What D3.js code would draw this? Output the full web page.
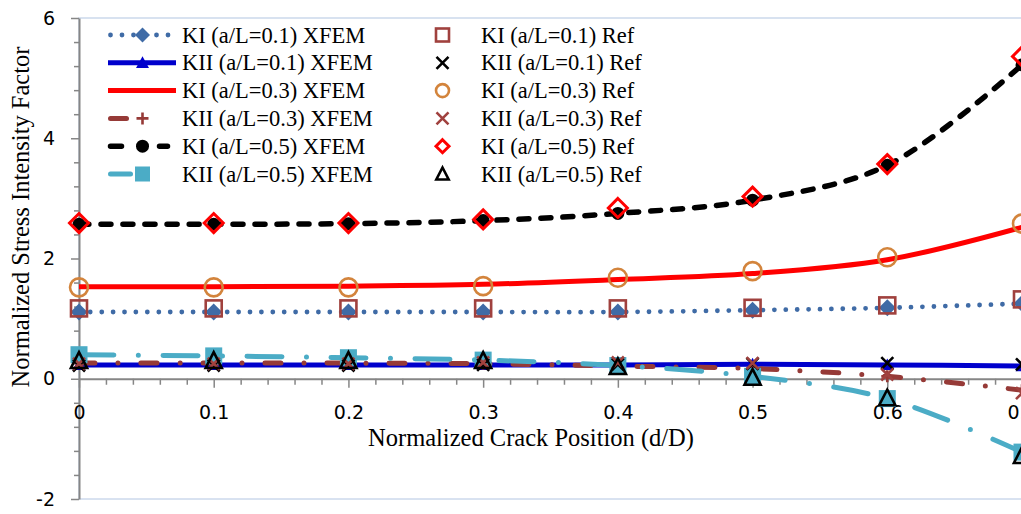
<!DOCTYPE html>
<html>
<head>
<meta charset="utf-8">
<script src="https://cdn.jsdelivr.net/npm/d3@7"></script>
<style>
html,body{margin:0;padding:0;background:#fff;}
svg{display:block;}
</style>
</head>
<body>
<svg id="chart" width="1021" height="514"></svg>
<script>
// ---------- data ----------
const positions = [0, 0.1, 0.2, 0.3, 0.4, 0.5, 0.6, 0.7];
const xTickLabels = ["0", "0.1", "0.2", "0.3", "0.4", "0.5", "0.6", "0.7"];
const yTickValues = [-2, 0, 2, 4, 6];
const yTickLabels = ["-2", "0", "2", "4", "6"];

const kiXfem01  = [1.11, 1.11, 1.11, 1.11, 1.11, 1.14, 1.18, 1.25];
const kiiXfem01 = [0.23, 0.23, 0.23, 0.23, 0.23, 0.24, 0.23, 0.21];
const kiXfem03  = [1.53, 1.53, 1.54, 1.57, 1.65, 1.75, 1.98, 2.52];
const kiiXfem03 = [0.26, 0.26, 0.26, 0.25, 0.21, 0.17, 0.04, -0.19];
const kiXfem05  = [2.57, 2.57, 2.58, 2.63, 2.75, 2.97, 3.55, 5.22];
const kiiXfem05 = [0.40, 0.38, 0.35, 0.31, 0.22, 0.04, -0.33, -1.22];

const kiRef01  = [1.17, 1.17, 1.17, 1.17, 1.17, 1.18, 1.22, 1.32];
const kiiRef01 = [0.22, 0.22, 0.22, 0.23, 0.24, 0.25, 0.26, 0.24];
const kiRef03  = [1.52, 1.52, 1.52, 1.54, 1.68, 1.79, 2.02, 2.58];
const kiiRef03 = [0.25, 0.25, 0.25, 0.27, 0.27, 0.26, 0.07, -0.24];
const kiRef05  = [2.59, 2.59, 2.59, 2.65, 2.84, 3.03, 3.57, 5.36];
const kiiRef05 = [0.30, 0.30, 0.30, 0.30, 0.20, 0.02, -0.32, -1.28];

const xfemNames = ["KI (a/L=0.1) XFEM", "KII (a/L=0.1) XFEM", "KI (a/L=0.3) XFEM",
                   "KII (a/L=0.3) XFEM", "KI (a/L=0.5) XFEM", "KII (a/L=0.5) XFEM"];
const refNames = ["KI (a/L=0.1) Ref", "KII (a/L=0.1) Ref", "KI (a/L=0.3) Ref",
                  "KII (a/L=0.3) Ref", "KI (a/L=0.5) Ref", "KII (a/L=0.5) Ref"];

// ---------- styles ----------
const xfemSeries = [
  {name: xfemNames[0], values: kiXfem01,  color: "#3F6BA6", width: 4.8, dash: "0 11.4", legendDash: "0 11.5", marker: "diamondFill", msize: 17},
  {name: xfemNames[1], values: kiiXfem01, color: "#0000CC", width: 5,   dash: null,  legendDash: null, marker: "triangleFill", msize: 13},
  {name: xfemNames[2], values: kiXfem03,  color: "#FF0000", width: 5,   dash: null,  legendDash: null, marker: null},
  {name: xfemNames[3], values: kiiXfem03, color: "#963A37", width: 5,   dash: "16 23 0 23", legendDash: "16 45.5 0 100", marker: "plus", msize: 12},
  {name: xfemNames[4], values: kiXfem05,  color: "#000000", width: 5.5, dash: "10 12", legendDash: "11 38 8 100", marker: "circleFill", msize: 13},
  {name: xfemNames[5], values: kiiXfem05, color: "#4BACC6", width: 5,   dash: "35 24.5 0 24.5", legendDash: "20 41.5 0 100", marker: "squareFill", msize: 17}
];
const refSeries = [
  {name: refNames[0], values: kiRef01,  color: "#A0413E", marker: "square",   msize: 16},
  {name: refNames[1], values: kiiRef01, color: "#000000", marker: "cross",    msize: 12},
  {name: refNames[2], values: kiRef03,  color: "#D3843C", marker: "circle",   msize: 18},
  {name: refNames[3], values: kiiRef03, color: "#A0413E", marker: "cross",    msize: 12},
  {name: refNames[4], values: kiRef05,  color: "#FF0000", marker: "diamond",  msize: 19},
  {name: refNames[5], values: kiiRef05, color: "#000000", marker: "triangle", msize: 17}
];

const svg = d3.select("#chart");
svg.append("rect").attr("width", 1021).attr("height", 514).attr("fill", "#fff");

const x = d3.scaleLinear().domain([0, 0.7]).range([79, 1022]);
const y = d3.scaleLinear().domain([-2, 6]).range([499, 18]);

// plot area border
svg.append("rect")
  .attr("x", x(0)).attr("y", y(6))
  .attr("width", x(0.7) - x(0) + 20).attr("height", y(-2) - y(6))
  .attr("fill", "none").attr("stroke", "#CCD9EC").attr("stroke-width", 1.5);

const axisColor = "#868686";
const tickFont = "'DejaVu Sans', sans-serif";

// Y axis minor ticks
const yMinor = d3.range(-2, 6.001, 0.4).filter(v => Math.abs(v / 2 - Math.round(v / 2)) > 1e-6);
svg.append("g").attr("transform", `translate(${x(0)},0)`)
  .call(d3.axisLeft(y).tickValues(yMinor).tickSize(5).tickSizeOuter(0).tickFormat(""))
  .call(g => g.select(".domain").remove())
  .call(g => g.selectAll("line").attr("stroke", axisColor).attr("stroke-width", 1.5));

// Y axis major
const yAxisG = svg.append("g").attr("transform", `translate(${x(0)},0)`)
  .call(d3.axisLeft(y).tickValues(yTickValues).tickSize(8).tickSizeOuter(0).tickPadding(16)
        .tickFormat((d, i) => yTickLabels[i]));
yAxisG.select(".domain").attr("stroke", axisColor).attr("stroke-width", 2);
yAxisG.selectAll("line").attr("stroke", axisColor).attr("stroke-width", 1.5);
yAxisG.selectAll("text").attr("font-family", tickFont).attr("font-size", 19).attr("fill", "#000");

// X axis minor ticks
const xMinor = d3.range(0, 0.7001, 0.02).filter(v => Math.abs(v * 10 - Math.round(v * 10)) > 1e-6);
svg.append("g").attr("transform", `translate(0,${y(0)})`)
  .call(d3.axisBottom(x).tickValues(xMinor).tickSize(6).tickSizeOuter(0).tickFormat(""))
  .call(g => g.select(".domain").remove())
  .call(g => g.selectAll("line").attr("stroke", axisColor).attr("stroke-width", 1.5));

// X axis major
const xAxisG = svg.append("g").attr("transform", `translate(0,${y(0)})`)
  .call(d3.axisBottom(x).tickValues(positions).tickSize(9).tickSizeOuter(0).tickPadding(18)
        .tickFormat((d, i) => xTickLabels[i]));
xAxisG.select(".domain").attr("stroke", axisColor).attr("stroke-width", 2);
xAxisG.selectAll("line").attr("stroke", axisColor).attr("stroke-width", 1.5);
xAxisG.selectAll("text").attr("font-family", tickFont).attr("font-size", 19).attr("fill", "#000");

// axis titles
const titleFont = "'Liberation Serif', 'Times New Roman', serif";
svg.append("text")
  .attr("x", 531).attr("y", 446)
  .attr("text-anchor", "middle")
  .attr("font-family", titleFont).attr("font-size", 24.5).attr("fill", "#000")
  .text("Normalized Crack Position (d/D)");
svg.append("text")
  .attr("transform", "translate(29,217) rotate(-90)")
  .attr("text-anchor", "middle")
  .attr("font-family", titleFont).attr("font-size", 24.5).attr("fill", "#000")
  .text("Normalized Stress Intensity Factor");

// marker drawing
function drawMarker(g, type, cx, cy, size, color) {
  const h = size / 2;
  switch (type) {
    case "diamondFill":
      g.append("path").attr("d", `M${cx},${cy - h}L${cx + h},${cy}L${cx},${cy + h}L${cx - h},${cy}Z`).attr("fill", color);
      break;
    case "diamond":
      g.append("path").attr("d", `M${cx},${cy - h}L${cx + h},${cy}L${cx},${cy + h}L${cx - h},${cy}Z`)
        .attr("fill", "none").attr("stroke", color).attr("stroke-width", 3);
      break;
    case "triangleFill":
      g.append("path").attr("d", `M${cx},${cy - h}L${cx + h},${cy + h * 0.8}L${cx - h},${cy + h * 0.8}Z`).attr("fill", color);
      break;
    case "triangle":
      g.append("path").attr("d", `M${cx},${cy - h}L${cx + h * 0.95},${cy + h * 0.85}L${cx - h * 0.95},${cy + h * 0.85}Z`)
        .attr("fill", "none").attr("stroke", color).attr("stroke-width", 2.6).attr("stroke-linejoin", "miter");
      break;
    case "squareFill":
      g.append("rect").attr("x", cx - h).attr("y", cy - h).attr("width", size).attr("height", size).attr("fill", color);
      break;
    case "square":
      g.append("rect").attr("x", cx - h).attr("y", cy - h).attr("width", size).attr("height", size)
        .attr("fill", "none").attr("stroke", color).attr("stroke-width", 2.6);
      break;
    case "circleFill":
      g.append("circle").attr("cx", cx).attr("cy", cy).attr("r", h).attr("fill", color);
      break;
    case "circle":
      g.append("circle").attr("cx", cx).attr("cy", cy).attr("r", h)
        .attr("fill", "none").attr("stroke", color).attr("stroke-width", 2.6);
      break;
    case "cross":
      g.append("path").attr("d", `M${cx - h},${cy - h}L${cx + h},${cy + h}M${cx - h},${cy + h}L${cx + h},${cy - h}`)
        .attr("stroke", color).attr("stroke-width", 2.6).attr("fill", "none");
      break;
    case "plus":
      g.append("path").attr("d", `M${cx - h},${cy}L${cx + h},${cy}M${cx},${cy - h}L${cx},${cy + h}`)
        .attr("stroke", color).attr("stroke-width", 2.6).attr("fill", "none");
      break;
  }
}

const line = d3.line()
  .x((d, i) => x(positions[i]))
  .y(d => y(d))
  .curve(d3.curveCatmullRom.alpha(0.5));

const plotG = svg.append("g");
xfemSeries.forEach(s => {
  const g = plotG.append("g");
  const p = g.append("path").datum(s.values)
    .attr("d", line)
    .attr("fill", "none")
    .attr("stroke", s.color)
    .attr("stroke-width", s.width)
    .attr("stroke-linecap", s.dash ? "round" : "butt")
    .attr("stroke-linejoin", "round");
  if (s.dash) p.attr("stroke-dasharray", s.dash);
  if (s.marker) {
    s.values.forEach((v, i) => drawMarker(g, s.marker, x(positions[i]), y(v), s.msize, s.color));
  }
});
refSeries.forEach(s => {
  const g = plotG.append("g");
  s.values.forEach((v, i) => drawMarker(g, s.marker, x(positions[i]), y(v), s.msize, s.color));
});

// legend
const legendFont = titleFont;
const rowY = d3.range(6).map(i => 35 + i * 27.8);
const legG = svg.append("g");
xfemSeries.forEach((s, i) => {
  const cy = rowY[i];
  const ln = legG.append("line")
    .attr("x1", s.dash ? 110.5 : 108).attr("x2", s.dash ? 172 : 176)
    .attr("y1", cy).attr("y2", cy)
    .attr("stroke", s.color).attr("stroke-width", s.width)
    .attr("stroke-linecap", s.dash ? "round" : "butt");
  if (s.legendDash) ln.attr("stroke-dasharray", s.legendDash);
  if (s.marker) drawMarker(legG, s.marker, 142.5, cy, Math.min(s.msize, 15), s.color);
  legG.append("text").attr("x", 182).attr("y", cy + 7.5)
    .attr("font-family", legendFont).attr("font-size", 22.5).attr("fill", "#000")
    .text(s.name);
});
refSeries.forEach((s, i) => {
  const cy = rowY[i];
  drawMarker(legG, s.marker, 442.5, cy, Math.min(s.msize, 13), s.color);
  legG.append("text").attr("x", 481).attr("y", cy + 7.5)
    .attr("font-family", legendFont).attr("font-size", 22.5).attr("fill", "#000")
    .text(s.name);
});
</script>
</body>
</html>
